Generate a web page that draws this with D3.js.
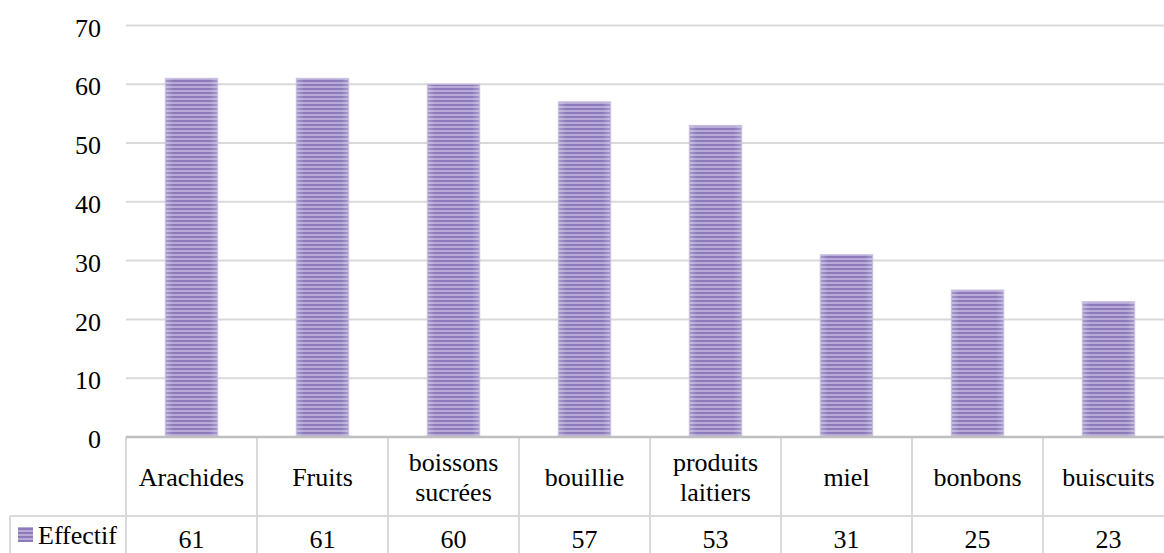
<!DOCTYPE html>
<html><head><meta charset="utf-8">
<script src="https://cdn.jsdelivr.net/npm/d3@7"></script>
</head><body style="margin:0;background:#fff">
<svg id="c" width="1164" height="553" style="display:block"></svg>
<script>
const categories = ["Arachides","Fruits","boissons sucrées","bouillie","produits laitiers","miel","bonbons","buiscuits"];
const labelLines = [["Arachides"],["Fruits"],["boissons","sucrées"],["bouillie"],["produits","laitiers"],["miel"],["bonbons"],["buiscuits"]];
const seriesName = "Effectif";
const values = [61,61,60,57,53,31,25,23];
const yTicks = [0,10,20,30,40,50,60,70];

const svg = d3.select("#c").style("font", "26px Tinos, 'Liberation Serif', 'Times New Roman', serif");
function txt(sel){ return sel.attr("font-family","Tinos, Liberation Serif, Times New Roman, serif").attr("fill","#000"); }
const left = 126, step = 131, right = left + step*categories.length;
const y = d3.scaleLinear().domain([0,70]).range([437, 25.4]);
const cell = d3.scaleBand().domain(categories).range([left, right]).padding(0);
const bar = d3.scaleBand().domain(categories).range([left, right]).paddingInner(0.6).paddingOuter(0.3);

const defs = svg.append("defs");
const pat = defs.append("pattern").attr("id","stripes").attr("patternUnits","userSpaceOnUse")
  .attr("width",8).attr("height",4);
pat.append("rect").attr("width",8).attr("height",4).attr("fill","#b8aad6");
pat.append("rect").attr("width",8).attr("height",2).attr("fill","#8c7aba");
const grad = defs.append("linearGradient").attr("id","shade").attr("x1","0").attr("x2","1").attr("y1","0").attr("y2","0");
grad.append("stop").attr("offset","0").attr("stop-color","#fff").attr("stop-opacity",0.25);
grad.append("stop").attr("offset","0.15").attr("stop-color","#fff").attr("stop-opacity",0);
grad.append("stop").attr("offset","0.85").attr("stop-color","#fff").attr("stop-opacity",0);
grad.append("stop").attr("offset","1").attr("stop-color","#fff").attr("stop-opacity",0.25);

// gridlines
svg.append("g").selectAll("line").data(yTicks.filter(d=>d>0)).join("line")
  .attr("x1",left).attr("x2",right).attr("y1",d=>y(d)).attr("y2",d=>y(d))
  .attr("stroke","#d9d9d9").attr("stroke-width",2);

// y labels
txt(svg.append("g").selectAll("text").data(yTicks).join("text")
  .attr("x",101).attr("y",d=>y(d)+2).attr("dy","0.35em").attr("text-anchor","end").text(d=>d));

// bars
const bg = svg.append("g");
bg.selectAll("rect.b").data(values).join("rect").attr("class","b")
  .attr("x",(d,i)=>bar(categories[i])).attr("width",bar.bandwidth())
  .attr("y",d=>y(d)).attr("height",d=>y(0)-y(d)).attr("fill","url(#stripes)");
bg.selectAll("rect.s").data(values).join("rect").attr("class","s")
  .attr("x",(d,i)=>bar(categories[i])).attr("width",bar.bandwidth())
  .attr("y",d=>y(d)).attr("height",d=>y(0)-y(d)).attr("fill","url(#shade)")
  .attr("stroke","#c9bfe2").attr("stroke-width",1);

// table
const rowTop = 437, rowMid = 516, rowBot = 600;
const tg = svg.append("g").attr("stroke","#d9d9d9").attr("stroke-width",2);
categories.forEach((c)=>{
  tg.append("line").attr("x1",cell(c)).attr("x2",cell(c)).attr("y1",rowTop).attr("y2",rowBot);
});
tg.append("line").attr("x1",right).attr("x2",right).attr("y1",rowTop).attr("y2",rowBot);
tg.append("line").attr("x1",10).attr("x2",right).attr("y1",rowMid).attr("y2",rowMid);
tg.append("line").attr("x1",10).attr("x2",10).attr("y1",rowMid).attr("y2",rowBot);

// axis line
svg.append("line").attr("x1",left).attr("x2",right).attr("y1",y(0)).attr("y2",y(0))
  .attr("stroke","#bfbfbf").attr("stroke-width",2.5);

// category labels
const cl = svg.append("g");
labelLines.forEach((lines,i)=>{
  const cx = cell(categories[i]) + cell.bandwidth()/2;
  const t = txt(cl.append("text").attr("x",cx).attr("text-anchor","middle"));
  const base = lines.length===1 ? 486 : 471;
  lines.forEach((ln,j)=>t.append("tspan").attr("x",cx).attr("y",base+j*30).text(ln));
});

// values row
txt(svg.append("g").selectAll("text").data(values).join("text")
  .attr("text-anchor","middle")
  .attr("x",(d,i)=>cell(categories[i])+cell.bandwidth()/2).attr("y",548).text(d=>d));

// legend
svg.append("rect").attr("x",18).attr("y",527).attr("width",15).attr("height",15).attr("fill","url(#stripes)");
txt(svg.append("text").attr("x",38).attr("y",544).text(seriesName));
</script>
</body></html>
